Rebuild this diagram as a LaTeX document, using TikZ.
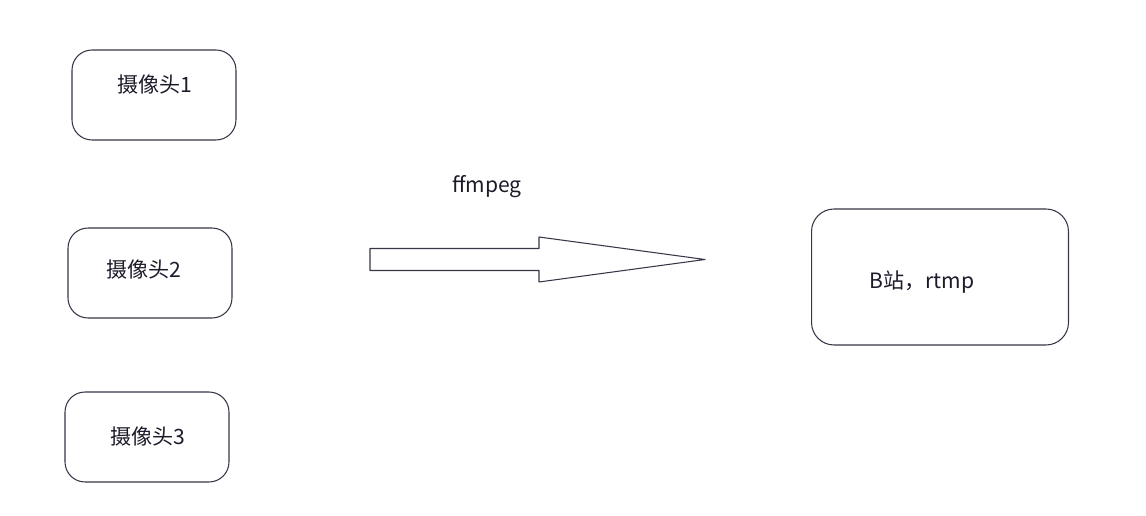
\documentclass[tikz,border=0pt]{standalone}
\usepackage{fontspec}
\setmainfont{Noto Sans CJK SC}
\usetikzlibrary{positioning, shapes, calc}
\definecolor{edge}{HTML}{3A3548}
\definecolor{ink}{HTML}{1E1A2A}

\begin{document}
\begin{tikzpicture}[x=0.02cm, y=-0.02cm,
    camera/.style={draw=edge, line width=0.6pt, rounded corners=0.4cm,
        minimum width=3.28cm, minimum height=1.8cm},
    server/.style={draw=edge, line width=0.6pt, rounded corners=0.45cm,
        minimum width=5.14cm, minimum height=2.72cm},
    txt/.style={text=ink, font=\fontsize{12}{14}\selectfont, inner sep=0pt}]
        % Frame of the picture
        \useasboundingbox[fill=white] (0, 0) rectangle (1146, 516);

        % Draw the boxes
        \node[camera] (cam1) at (154, 95) {};     % camera 1
        \node[camera] (cam2) at (150, 273) {};    % camera 2
        \node[camera] (cam3) at (147, 437) {};    % camera 3
        \node[server] (bili) at (940, 277) {};    % target

        % Label the boxes
        \node[txt] (cam1text) at (155, 85) {摄像头1};
        \node[txt] (cam2text) at (144, 270) {摄像头2};
        \node[txt] (cam3text) at (148, 437) {摄像头3};
        \node[txt] (bilitext) at (922, 282) {B站，rtmp};

        % Draw the block arrow
        \coordinate (tail) at (370, 259.5);
        \coordinate (tip) at (705, 259.5);
        \draw[edge, line width=0.6pt, line join=round]
            ($(tail)+(0, -11)$) -- (539, 248.5) -- (539, 237) -- (tip)
            -- (539, 282) -- (539, 270.5) -- ($(tail)+(0, 11)$) -- cycle;
        \node[txt] (tool) at (487, 187) {ffmpeg};
    \end{tikzpicture}
\end{document}
